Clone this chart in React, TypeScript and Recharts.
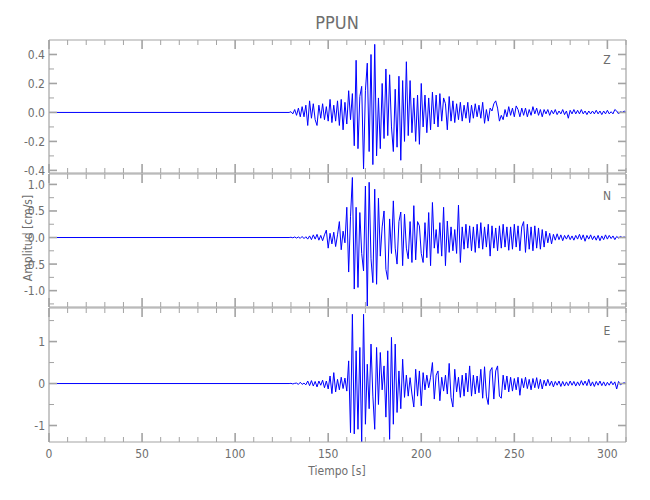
import { LineChart, Line, XAxis, YAxis } from 'recharts';

const stationName = 'PPUN';
const timeTitle = 'Tiempo [s]';
const amplitudeTitle = 'Amplitud [cm/s]';

// samples start at 129 s, one per second; the trace is flat (0) before that
const traceStart = 129;

const zAmplitude = [
  0, 0.005, -0.01, 0.02, -0.02, 0.03, -0.03, 0.04, -0.03, 0.05,
  -0.09, 0.08, -0.04, 0.06, -0.05, -0.09, 0.05, -0.04, 0.06, -0.05,
  0.04, -0.06, 0.09, -0.07, 0.05, -0.06, 0.08, -0.09, 0.09, -0.12,
  0.07, -0.08, 0.15, -0.05, 0.13, -0.23, 0.36, -0.25, 0.11, 0.18,
  -0.39, 0.15, 0.34, -0.27, 0.4, -0.36, 0.47, -0.3, 0.1, -0.25,
  0.2, -0.18, 0.3, -0.16, 0.26, -0.1, -0.27, 0.16, -0.24, 0.25,
  -0.33, 0.22, -0.2, 0.35, -0.16, 0.22, -0.14, 0.1, -0.2, 0.12,
  -0.22, 0.2, -0.1, 0.12, -0.14, 0.1, -0.12, 0.14, -0.08, 0.12,
  -0.1, 0.13, -0.06, 0.1, 0.06, -0.12, 0.11, -0.06, 0.08, -0.07,
  0.06, -0.05, 0.07, -0.06, 0.05, -0.04, 0.07, -0.07, 0.05, -0.04,
  0.06, -0.03, 0.05, -0.04, 0.07, -0.075, 0.02, -0.06, 0.03, 0.01,
  0.06, 0.08, 0.03, -0.06, -0.02, -0.05, 0.02, -0.03, 0.04, -0.02,
  0.03, -0.03, 0.045, 0.02, -0.03, 0.03, -0.02, 0.03, -0.03, 0.02,
  -0.02, 0.04, -0.01, 0.03, -0.02, 0.02, -0.03, 0.02, -0.01, 0.02,
  -0.02, 0.015, -0.01, 0.02, -0.015, 0.01, -0.01, 0.02, -0.015, 0.01,
  -0.04, 0.015, -0.01, 0.02, -0.01, 0.015, -0.01, 0.02, -0.01, 0.01,
  -0.015, 0.01, -0.01, 0.01, -0.01, 0.015, -0.01, 0.01, -0.015, 0.01,
  -0.01, 0.015, -0.01, 0.005, -0.01, 0.02, 0.01, -0.01, 0.005, 0,
  0.01, 0,
];

const nAmplitude = [
  0, 0.005, -0.005, 0.01, -0.01, 0.01, -0.015, 0.02, -0.02, 0.015,
  -0.03, 0.03, -0.04, 0.05, -0.03, 0.06, -0.05, 0.04, -0.06, 0.05,
  0.14, -0.2, 0.08, -0.12, 0.1, -0.17, 0.05, 0.3, -0.23, 0.12,
  -0.1, 0.57, -0.65, 0.4, 1.13, -0.97, 0.57, -0.94, 0.47, -0.3,
  -0.63, 0.97, -1.29, 1.04, -0.4, -0.85, 0.91, -0.88, 0.74, -0.35,
  0.2, 0.5, -0.6, -0.79, 0.35, -0.3, 0.69, -0.2, -0.5, 0.3,
  0.48, -0.53, 0.44, -0.2, -0.4, 0.3, -0.47, 0.6, -0.42, 0.3,
  0.22, -0.3, -0.47, 0.28, -0.38, 0.47, -0.53, 0.66, -0.2, 0.15,
  -0.3, 0.28, -0.35, 0.57, -0.53, 0.31, -0.28, 0.2, -0.25, 0.15,
  -0.3, 0.61, -0.47, 0.2, -0.22, 0.25, -0.2, 0.22, -0.25, 0.2,
  -0.28, 0.25, -0.2, 0.28, -0.22, 0.2, -0.18, 0.25, -0.35, 0.22,
  -0.2, 0.18, -0.25, 0.22, -0.2, 0.25, -0.18, 0.2, -0.24, 0.2,
  -0.22, 0.25, -0.18, 0.22, -0.25, 0.2, 0.3, -0.28, 0.25, -0.22,
  0.2, -0.25, 0.22, -0.2, 0.18, -0.22, 0.15, -0.18, 0.12, -0.1,
  0.08, -0.12, 0.06, -0.05, 0.07, -0.04, 0.05, -0.06, 0.04, -0.03,
  0.05, -0.04, 0.03, -0.05, 0.04, -0.03, 0.06, -0.04, 0.05, -0.07,
  0.04, -0.03, 0.05, -0.04, 0.03, -0.05, 0.04, -0.06, 0.03, -0.04,
  0.05, -0.03, 0.04, -0.02, 0.03, -0.04, 0.02, -0.01, 0.02, 0,
  0.01, 0,
];

const eAmplitude = [
  0, 0.005, -0.01, 0.005, 0.01, -0.02, 0.03, -0.02, 0.01, -0.03,
  0.06, -0.05, 0.07, -0.06, 0.05, -0.08, 0.06, -0.04, 0.08, -0.1,
  0.06, -0.13, 0.18, -0.24, 0.26, -0.2, 0.1, -0.15, 0.15, -0.12,
  0.13, -0.18, 0.54, -1.17, 1.65, -1.2, 0.78, -1.09, 0.86, -1.4,
  1.65, -0.97, 0.46, -0.6, 0.94, -0.3, -1.09, 0.86, -0.5, 0.74,
  -0.15, 0.42, -0.8, 0.78, -1.33, 1.1, -0.97, 0.94, -0.69, 0.3,
  -0.6, 0.58, -0.33, 0.2, -0.3, 0.14, -0.25, -0.56, 0.34, -0.3,
  0.3, -0.53, 0.26, -0.15, 0.2, -0.1, 0.15, 0.5, -0.37, 0.2,
  0.3, -0.41, 0.15, -0.18, 0.2, -0.25, 0.48, -0.33, -0.56, 0.34,
  -0.2, 0.15, -0.33, 0.2, -0.3, 0.25, -0.2, 0.42, -0.3, 0.2,
  -0.25, 0.18, -0.22, 0.34, -0.35, 0.4, -0.3, -0.5, 0.3, 0.38,
  -0.37, 0.3, 0.42, -0.3, -0.35, 0.2, -0.15, 0.18, -0.2, 0.15,
  -0.18, 0.12, -0.15, 0.15, -0.28, 0.12, -0.1, 0.15, -0.12, 0.1,
  -0.15, 0.12, -0.1, 0.14, -0.12, 0.1, -0.13, 0.08, -0.06, 0.1,
  -0.05, 0.06, -0.08, 0.05, -0.04, 0.06, -0.07, 0.05, -0.06, 0.04,
  -0.05, 0.06, -0.04, 0.05, -0.06, 0.04, -0.05, 0.07, -0.04, 0.06,
  -0.05, 0.1, -0.06, 0.04, -0.07, 0.05, -0.04, 0.06, -0.05, 0.04,
  -0.06, 0.03, -0.04, 0.05, -0.03, 0.04, -0.13, 0.05, -0.03, 0,
  0.02, 0,
];

const timeTicks = [
  0, 10, 20, 30, 40, 50, 60, 70, 80, 90, 100, 110, 120, 130, 140, 150,
  160, 170, 180, 190, 200, 210, 220, 230, 240, 250, 260, 270, 280, 290, 300, 310,
];
const timeLabels = [0, 50, 100, 150, 200, 250, 300];

const zTicks = [0.4, 0.3, 0.2, 0.1, 0, -0.1, -0.2, -0.3, -0.4];
const zLabels = [0.4, 0.2, 0, -0.2, -0.4];
const nTicks = [1, 0.75, 0.5, 0.25, 0, -0.25, -0.5, -0.75, -1, -1.25];
const nLabels = [1, 0.5, 0, -0.5, -1];
const eTicks = [1.5, 1, 0.5, 0, -0.5, -1];
const eLabels = [1, 0, -1];

const AXIS = '#a3a3a3';
const TEXT = '#6e6e6e';
const TRACE = '#0000ff';
const FONT = "'DejaVu Sans', sans-serif";
const textStyle = { fontStretch: 'condensed' } as any;

function Panel({ values, top, height, margin, domain, yTicks, yLabels, decimals, channel, labelTop, showTime }: any) {
  const data = [{ t: 0, v: 0 }, ...values.map((v: number, i: number) => ({ t: traceStart + i, v }))];

  const bottomTick = ({ x, y, payload }: any) => {
    const major = timeLabels.includes(payload.value);
    return (
      <g>
        <line x1={x} x2={x} y1={y} y2={y - (major ? 9 : 5)} stroke={AXIS} strokeWidth={major ? 1.6 : 1} />
        {showTime && major && (
          <text x={x} y={y + 16} textAnchor="middle" fill={TEXT} fontSize={12} fontFamily={FONT} style={textStyle}>
            {payload.value}
          </text>
        )}
      </g>
    );
  };
  const topTick = ({ x, y, payload }: any) => {
    const major = timeLabels.includes(payload.value);
    return <line x1={x} x2={x} y1={y} y2={y + (major ? 9 : 5)} stroke={AXIS} strokeWidth={major ? 1.6 : 1} />;
  };
  const leftTick = ({ x, y, payload }: any) => {
    const major = yLabels.includes(payload.value);
    return (
      <g>
        <line x1={x} x2={x + (major ? 8 : 5)} y1={y} y2={y} stroke={AXIS} strokeWidth={major ? 1.6 : 1} />
        {major && (
          <text x={x - 4} y={y + 4.5} textAnchor="end" fill={TEXT} fontSize={12} fontFamily={FONT} style={textStyle}>
            {payload.value.toFixed(decimals)}
          </text>
        )}
      </g>
    );
  };
  const rightTick = ({ x, y, payload }: any) => {
    const major = yLabels.includes(payload.value);
    return <line x1={x} x2={x - (major ? 8 : 5)} y1={y} y2={y} stroke={AXIS} strokeWidth={major ? 1.6 : 1} />;
  };

  return (
    <div style={{ position: 'absolute', left: 0, top }}>
      <LineChart width={650} height={height} data={data} margin={margin}>
        <XAxis
          dataKey="t"
          type="number"
          domain={[0, 310]}
          ticks={timeTicks}
          interval={0}
          height={1}
          tickSize={0}
          tickMargin={0}
          axisLine={{ stroke: AXIS, strokeWidth: 1.2 }}
          tick={bottomTick}
          allowDataOverflow
        />
        <XAxis
          xAxisId="top"
          orientation="top"
          dataKey="t"
          type="number"
          domain={[0, 310]}
          ticks={timeTicks}
          interval={0}
          height={1}
          tickSize={0}
          tickMargin={0}
          axisLine={{ stroke: AXIS, strokeWidth: 1.2 }}
          tick={topTick}
          allowDataOverflow
        />
        <YAxis
          type="number"
          domain={domain}
          ticks={yTicks}
          interval={0}
          width={1}
          tickSize={0}
          tickMargin={0}
          axisLine={{ stroke: AXIS, strokeWidth: 1.2 }}
          tick={leftTick}
          allowDataOverflow
        />
        <YAxis
          yAxisId="right"
          orientation="right"
          type="number"
          domain={domain}
          ticks={yTicks}
          interval={0}
          width={1}
          tickSize={0}
          tickMargin={0}
          axisLine={{ stroke: AXIS, strokeWidth: 1.2 }}
          tick={rightTick}
          allowDataOverflow
        />
        <Line dataKey="v" stroke={TRACE} strokeWidth={1} dot={false} isAnimationActive={false} />
        <Line
          xAxisId="top"
          yAxisId="right"
          dataKey="v"
          stroke={TRACE}
          strokeOpacity={0}
          dot={false}
          activeDot={false}
          isAnimationActive={false}
        />
      </LineChart>
      <div
        style={{
          position: 'absolute',
          left: 600,
          top: labelTop - top,
          width: 14,
          textAlign: 'center',
          fontFamily: FONT,
          fontStretch: 'condensed',
          fontSize: 12,
          lineHeight: '13px',
          color: TEXT,
        }}
      >
        {channel}
      </div>
    </div>
  );
}

export default function App() {
  return (
    <div
      style={{
        position: 'absolute',
        left: 0,
        top: 0,
        width: 650,
        height: 500,
        background: '#fff',
        overflow: 'hidden',
      }}
    >
      <style>{'.recharts-surface{overflow:visible}'}</style>
      <Panel
        values={zAmplitude}
        top={0}
        height={174}
        margin={{ top: 39, right: 23, bottom: 0, left: 48 }}
        domain={[-0.418, 0.5]}
        yTicks={zTicks}
        yLabels={zLabels}
        decimals={1}
        channel="Z"
        labelTop={54}
        showTime={false}
      />
      <Panel
        values={nAmplitude}
        top={173}
        height={135}
        margin={{ top: 0, right: 23, bottom: 0, left: 48 }}
        domain={[-1.308, 1.196]}
        yTicks={nTicks}
        yLabels={nLabels}
        decimals={1}
        channel="N"
        labelTop={190}
        showTime={false}
      />
      <Panel
        values={eAmplitude}
        top={307}
        height={193}
        margin={{ top: 0, right: 23, bottom: 57, left: 48 }}
        domain={[-1.393, 1.8]}
        yTicks={eTicks}
        yLabels={eLabels}
        decimals={0}
        channel="E"
        labelTop={325}
        showTime={true}
      />
      <svg
        width={650}
        height={500}
        style={{ position: 'absolute', left: 0, top: 0, pointerEvents: 'none' }}
      >
        <text x={337} y={29} textAnchor="middle" fill={TEXT} fontSize={18} fontFamily={FONT} style={textStyle}>
          {stationName}
        </text>
        <text x={337} y={475} textAnchor="middle" fill={TEXT} fontSize={12} fontFamily={FONT} style={textStyle}>
          {timeTitle}
        </text>
        <text
          x={32}
          y={238}
          textAnchor="middle"
          fill={TEXT}
          fontSize={12}
          fontFamily={FONT}
          style={textStyle}
          transform="rotate(-90 32 238)"
        >
          {amplitudeTitle}
        </text>
      </svg>
    </div>
  );
}
